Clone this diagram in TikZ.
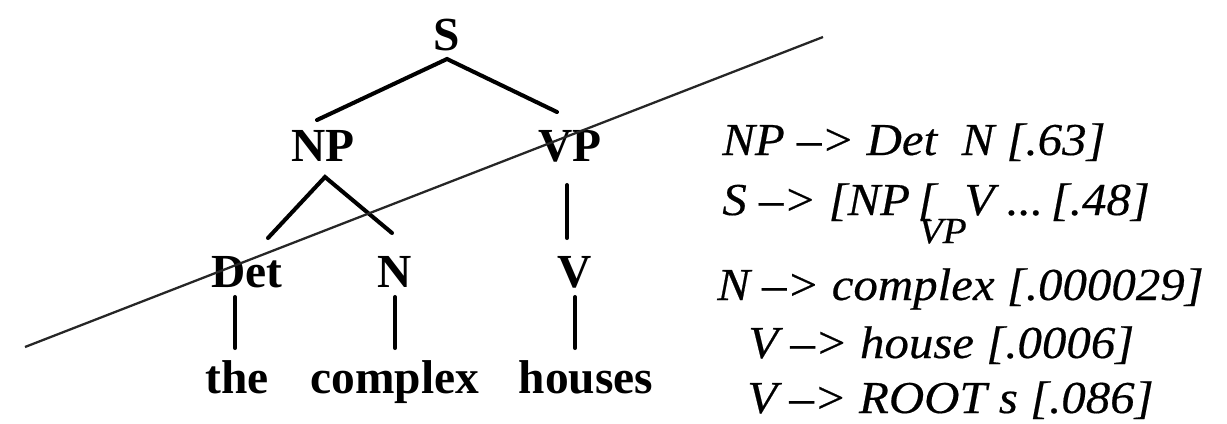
\documentclass[tikz,border=0pt]{standalone}
\usepackage{fontspec}
\setmainfont{Liberation Serif}
\newfontfamily\rulefont[Ligatures=TeX,FakeStretch=1.07,FakeBold=0.4]{Liberation Serif}
\usetikzlibrary{calc}

\begin{document}
\begin{tikzpicture}[x=0.02cm,y=-0.02cm,
  cat/.style={font=\bfseries\fontsize{27}{30}\selectfont,inner sep=0pt,anchor=base},
  rule/.style={font=\rulefont\itshape\fontsize{26}{30}\selectfont,inner sep=0pt,anchor=base west},
  branch/.style={line width=2.3pt,line cap=round},
  cutline/.style={line width=1.3pt,black!85}]
  \useasboundingbox (0,0) rectangle (1227,423);
  % tree
  \node[cat] (S) at (447,50) {S};
  \node[cat] (NP) at (323,161) {NP};
  \node[cat] (VP) at (570,161) {VP};
  \foreach \nm/\x in {Det/247,N/395,V/575}
    \node[cat] (\nm) at (\x,287) {\nm};
  \foreach \nm/\x in {the/237,complex/395,houses/586}
    \node[cat] (\nm) at (\x,393) {\nm};
  \draw[branch] ($(NP.base)+(-6,-41)$) -- ($(S.base)+(0,9)$) -- ($(VP.base)+(-13,-49)$);
  \draw[branch] ($(Det.base)+(21,-49)$) -- ($(NP.base)+(2,16)$) -- ($(N.base)+(-3,-54)$);
  \draw[branch] ($(VP.base)+(-3,24)$) -- ($(V.base)+(-8,-49)$);
  \draw[branch] ($(Det.base)+(-12,10)$) -- ($(the.base)+(-2,-45)$);
  \draw[branch] ($(N.base)+(0,10)$) -- ($(complex.base)+(0,-45)$);
  \draw[branch] ($(V.base)+(0,10)$) -- ($(houses.base)+(-11,-45)$);
  % rules with probabilities
  \node[rule] (r-np) at (722,155) {NP --> Det\ \ N [.63]};
  \node[rule] (r-s) at (722,215) {S --> [NP\,[\kern-.4em\raisebox{-16pt}{\fontsize{21}{21}\selectfont VP}\kern-.05em V ...\,[.48]};
  \node[rule] (r-n) at (717,300) {N --> complex [.000029]};
  \node[rule] (r-v1) at (748,358) {V --> house [.0006]};
  \node[rule] (r-v2) at (747,413) {V --> ROOT s [.086]};
  % the cut
  \coordinate (cut-l) at (25,347);
  \coordinate (cut-r) at (823,37);
  \draw[cutline] (cut-l) -- (cut-r);
\end{tikzpicture}
\end{document}
